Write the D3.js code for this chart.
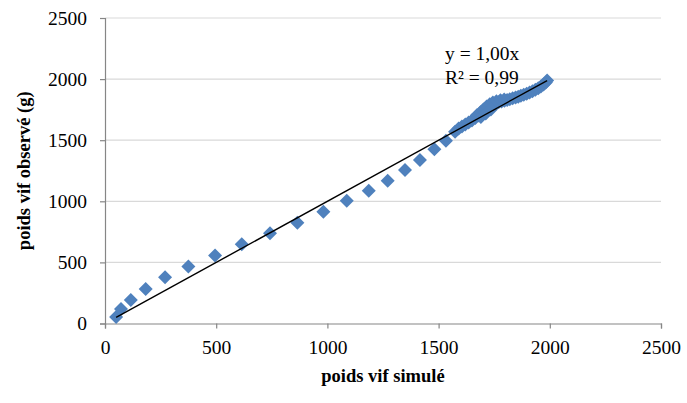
<!DOCTYPE html>
<html>
<head>
<meta charset="utf-8">
<script src="https://cdn.jsdelivr.net/npm/d3@7"></script>
<style>
  html, body { margin: 0; padding: 0; background: #fff; }
  svg { display: block; }
</style>
</head>
<body>
<svg id="chart" width="687" height="403"></svg>
<script>
// ---- data ----
const simule = [50, 72, 116, 183, 270, 375, 495, 615, 742, 865, 982, 1087, 1186, 1271, 1349, 1416, 1481, 1533, 1574,
  1590, 1605, 1620, 1635, 1650, 1665, 1680, 1695, 1708, 1720, 1732, 1745, 1758, 1770, 1783, 1796, 1808, 1820,
  1833, 1846, 1858, 1870, 1883, 1896, 1909, 1922, 1935, 1948, 1960, 1972, 1982, 1988,
  1672, 1688, 1702, 1716, 1730, 1744, 1760, 1778, 1795, 1690, 1712, 1735];
const observe = [53, 119, 192, 282, 378, 466, 556, 648, 738, 825, 915, 1005, 1087, 1169, 1256, 1338, 1426, 1496, 1570,
  1595, 1612, 1628, 1645, 1662, 1682, 1703, 1728, 1752, 1770, 1785, 1795, 1803, 1810, 1816, 1822, 1828, 1836,
  1843, 1850, 1856, 1863, 1871, 1880, 1890, 1900, 1912, 1926, 1940, 1955, 1972, 1988,
  1705, 1728, 1752, 1775, 1795, 1808, 1818, 1826, 1834, 1690, 1718, 1752];
const xTicks = [0, 500, 1000, 1500, 2000, 2500];
const yTicks = [0, 500, 1000, 1500, 2000, 2500];
const slope = 1.00;
const eqLabel = "y = 1,00x";
const r2Label = "R² = 0,99";
const xTitle = "poids vif simulé";
const yTitle = "poids vif observé (g)";

// ---- layout ----
const svg = d3.select("#chart");
const x = d3.scaleLinear().domain([0, 2500]).range([105, 661]);
const y = d3.scaleLinear().domain([0, 2500]).range([323.5, 18]);
const serif = "'Liberation Serif','Times New Roman',serif";

// gridlines
svg.append("g").selectAll("line").data(yTicks.filter(d => d > 0)).join("line")
  .attr("x1", x(0)).attr("x2", x(2500))
  .attr("y1", d => y(d)).attr("y2", d => y(d))
  .attr("stroke", "#d9d9d9").attr("stroke-width", 1.2);

// axes
const axisColor = "#868686";
const gx = svg.append("g").attr("transform", `translate(0,${y(0)})`)
  .call(d3.axisBottom(x).tickValues(xTicks).tickSize(5).tickPadding(12).tickFormat(d3.format("d")));
const gy = svg.append("g").attr("transform", `translate(${x(0)},0)`)
  .call(d3.axisLeft(y).tickValues(yTicks).tickSize(5).tickPadding(13).tickFormat(d3.format("d")));
[gx, gy].forEach(g => {
  g.select(".domain").attr("stroke", axisColor).attr("stroke-width", 1.2);
  g.selectAll(".tick line").attr("stroke", axisColor).attr("stroke-width", 1.2);
  g.selectAll(".tick text").attr("fill", "#000").attr("font-family", serif).attr("font-size", "19.5px");
});
gx.selectAll(".tick text").attr("dy", "0.71em");

// points (diamonds)
const pts = simule.map((v, i) => ({ sx: v, oy: observe[i] }));
const r = 7;
const diamond = `M0,${-r}L${r},0L0,${r}L${-r},0Z`;
svg.append("g").selectAll("path").data(pts).join("path")
  .attr("d", diamond)
  .attr("transform", d => `translate(${x(d.sx)},${y(d.oy)})`)
  .attr("fill", "#4f81bd");

// trendline
const ext = d3.extent(simule);
svg.append("line")
  .attr("x1", x(ext[0])).attr("y1", y(slope * ext[0]))
  .attr("x2", x(ext[1])).attr("y2", y(slope * ext[1]))
  .attr("stroke", "#000").attr("stroke-width", 1.4);

// equation labels
svg.append("text").attr("x", 445).attr("y", 60).text(eqLabel)
  .attr("font-family", serif).attr("font-size", "19.5px").attr("fill", "#000");
svg.append("text").attr("x", 445).attr("y", 83.5).text(r2Label)
  .attr("font-family", serif).attr("font-size", "19.5px").attr("fill", "#000");

// axis titles
svg.append("text").attr("x", (x(0) + x(2500)) / 2).attr("y", 382)
  .attr("text-anchor", "middle").text(xTitle)
  .attr("font-family", serif).attr("font-size", "18.5px").attr("font-weight", "bold");
svg.append("text")
  .attr("transform", `translate(30,${(y(0) + y(2500)) / 2}) rotate(-90)`)
  .attr("text-anchor", "middle").text(yTitle)
  .attr("font-family", serif).attr("font-size", "18.5px").attr("font-weight", "bold");
</script>
</body>
</html>
